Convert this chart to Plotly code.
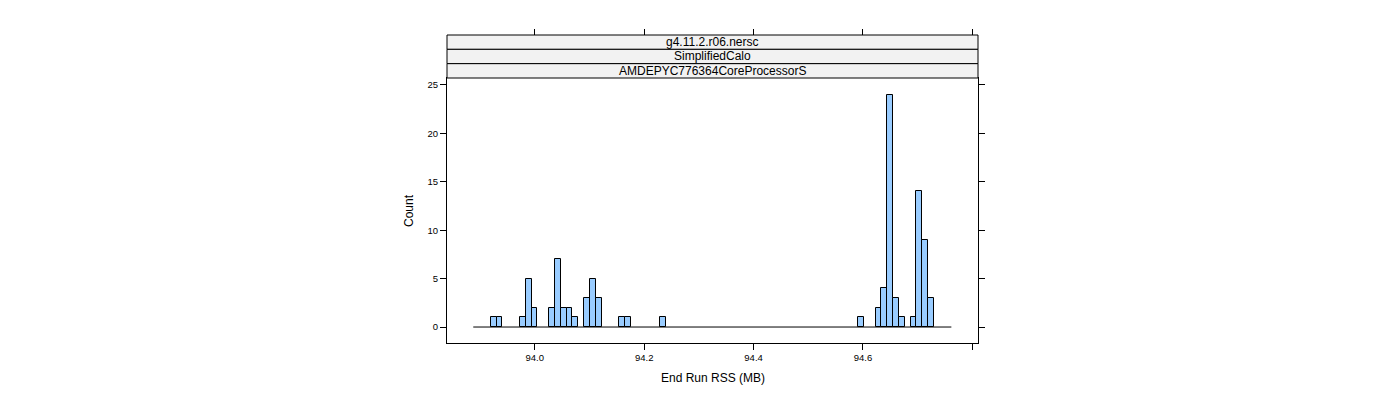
import plotly.graph_objects as go

# ---- data ----
bin_start = 93.8875
bin_width = 0.01066
counts = [0, 0, 0, 1, 1, 0, 0, 0, 1, 5,
          2, 0, 0, 2, 7, 2, 2, 1, 0, 3,
          5, 3, 0, 0, 0, 1, 1, 0, 0, 0,
          0, 0, 1, 0, 0, 0, 0, 0, 0, 0,
          0, 0, 0, 0, 0, 0, 0, 0, 0, 0,
          0, 0, 0, 0, 0, 0, 0, 0, 0, 0,
          0, 0, 0, 0, 0, 0, 1, 0, 0, 2,
          4, 24, 3, 1, 0, 1, 14, 9, 3, 0,
          0, 0]
x_ticks = [94.0, 94.2, 94.4, 94.6, 94.8]
x_tick_labels = ["94.0", "94.2", "94.4", "94.6", ""]
y_ticks = [0, 5, 10, 15, 20, 25]
strip_labels = ["g4.11.2.r06.nersc", "SimplifiedCalo", "AMDEPYC776364CoreProcessorS"]
x_title = "End Run RSS (MB)"
y_title = "Count"

# ---- derived ----
n = len(counts)
edges = [bin_start + i * bin_width for i in range(n + 1)]
centers = [(edges[i] + edges[i + 1]) / 2 for i in range(n)]
bx = [c for c, v in zip(centers, counts) if v > 0]
by = [v for v in counts if v > 0]

OFF = 8                   # default page body margin
W, H = 1400 - OFF, 400 - OFF
L, R = 447 - OFF, 978 - OFF      # panel left/right px (in figure coords)
PT, PB = 78 - OFF, 343 - OFF     # panel top/bottom px
ST = 35 - OFF                    # strip top px
area_h = PB - ST

def py(p):
    return (PB - (p - OFF)) / area_h

def px(p):
    return ((p - OFF) - L) / (R - L)

font = "Liberation Sans, Arial, sans-serif"
xr = [93.8395, 94.8103]
yr = [-1.65, 25.72]

fig = go.Figure()
fig.add_trace(go.Scatter(x=[edges[0], edges[-1]], y=[0, 0], mode="lines",
                         line=dict(color="black", width=1), showlegend=False,
                         hoverinfo="skip"))
fig.add_trace(go.Bar(x=bx, y=by, width=bin_width,
                     marker=dict(color="#99CCFF", line=dict(color="black", width=1)),
                     showlegend=False))
fig.add_trace(go.Scatter(x=[xr[0]], y=[yr[0]], xaxis="x2", yaxis="y", mode="markers",
                         marker=dict(opacity=0), showlegend=False, hoverinfo="skip"))

shapes = []
annotations = []
strip_px = [35, 35 + (78 - 35) / 3, 35 + 2 * (78 - 35) / 3, 78]
for i, lab in enumerate(strip_labels):
    top, bot = strip_px[i], strip_px[i + 1]
    shapes.append(dict(type="rect", xref="paper", yref="paper",
                       x0=0, x1=1, y0=py(bot), y1=py(top),
                       fillcolor="#F2F2F2", line=dict(color="black", width=1),
                       layer="above"))
    annotations.append(dict(text=lab, xref="paper", yref="paper",
                            x=0.5, y=py((top + bot) / 2), showarrow=False,
                            xanchor="center", yanchor="middle",
                            font=dict(family=font, size=12, color="black")))

annotations.append(dict(text=x_title, xref="paper", yref="paper", x=px(712.5), y=py(378),
                        showarrow=False, xanchor="center", yanchor="middle",
                        font=dict(family=font, size=12, color="black")))
annotations.append(dict(text=y_title, xref="paper", yref="paper", x=px(409), y=py(211),
                        showarrow=False, xanchor="center", yanchor="middle", textangle=-90,
                        font=dict(family=font, size=12, color="black")))

axis_common = dict(showgrid=False, zeroline=False, ticks="outside", ticklen=6,
                   tickcolor="black", tickwidth=1, linecolor="black", linewidth=1,
                   tickfont=dict(family=font, size=9.5, color="black"))

fig.update_layout(
    width=W, height=H,
    margin=dict(l=L, r=W - R, t=ST, b=H - PB, pad=0),
    paper_bgcolor="white", plot_bgcolor="white",
    xaxis=dict(range=xr, tickvals=x_ticks, ticktext=x_tick_labels, showline=True,
               mirror=True, **axis_common),
    xaxis2=dict(range=xr, overlaying="x", anchor="free", position=1, side="top",
                tickvals=x_ticks, showticklabels=False, showline=False, **axis_common),
    yaxis=dict(range=yr, domain=[0, (PB - PT) / area_h], tickvals=y_ticks,
               showline=True, mirror="ticks", **axis_common),
    shapes=shapes, annotations=annotations,
    bargap=0,
)
fig.write_html("out.html")
